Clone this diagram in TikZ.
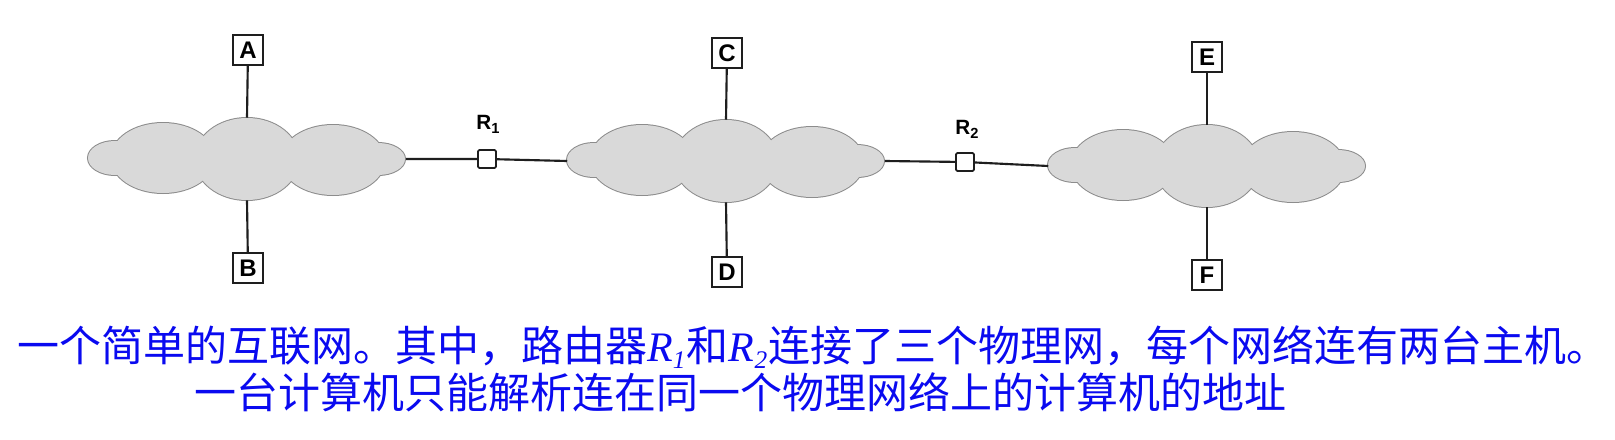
\documentclass[tikz,border=0pt]{standalone}
\usepackage{fontspec}
\newfontfamily\hv{Liberation Sans}
\newfontfamily\tnr{Liberation Serif}
\newfontfamily\cjk{Noto Sans CJK SC}
\definecolor{cloudfill}{HTML}{D9D9D9}
\definecolor{cloudedge}{HTML}{8C8C8C}
\definecolor{wire}{HTML}{1E1E1E}
\definecolor{captionblue}{RGB}{10,10,240}
\newcommand\drawnet[3]{%
  \begin{scope}[shift={(#1,#2)}]
    \foreach \dx/\dy/\rx/\ry in {-132/-1/27/17,-84/-1/52/35,86/1/52/35,131/0/27/16,0/0/52/41}
      \draw[cloudedge,line width=1.5pt] (\dx,\dy) ellipse[x radius=\rx, y radius=\ry];
    \foreach \dx/\dy/\rx/\ry in {-132/-1/27/17,-84/-1/52/35,86/1/52/35,131/0/27/16,0/0/52/41}
      \fill[cloudfill] (\dx,\dy) ellipse[x radius=\rx, y radius=\ry];
    \node[netbox] (#3) at (0,0) {};
  \end{scope}}
\newcommand\rsub[1]{R\raisebox{-0.35ex}{\fontsize{11}{12}\selectfont #1}}
\newcommand\itsub[1]{{\tnr\itshape R}\raisebox{-0.3ex}{\tnr\fontsize{19}{20}\selectfont\itshape #1}\kern1pt}
\begin{document}
\begin{tikzpicture}[x=0.75pt,y=-0.75pt,
  netbox/.style={draw=none,inner sep=0pt,minimum width=237.75pt,minimum height=61.5pt},
  hostbox/.style={draw=wire,line width=1.7pt,fill=white,inner sep=0pt,minimum size=22pt,
    font=\hv\bfseries\fontsize{18}{20}\selectfont},
  routerbox/.style={draw=wire,line width=1.3pt,fill=white,inner sep=0pt,minimum size=13.5pt,rounded corners=1pt},
  rlabel/.style={font=\hv\bfseries\fontsize{15.5}{17}\selectfont,inner sep=0pt},
  wireline/.style={draw=wire,line width=1.6pt},
  caption/.style={text=captionblue,inner sep=0pt,anchor=west,font=\cjk\fontsize{31.5}{34}\selectfont}]
\useasboundingbox (0,0) rectangle (1615,439);
\fill[white] (0,0) rectangle (1615,439);
\drawnet{247}{159}{net1}
\drawnet{726}{161}{net2}
\drawnet{1207}{166}{net3}
\node[hostbox] (A) at (248,50) {A};
\node[hostbox] (B) at (248,268) {B};
\node[hostbox] (C) at (727,53) {C};
\node[hostbox] (D) at (727,272) {D};
\node[hostbox] (E) at (1207,57) {E};
\node[hostbox] (F) at (1207,275) {F};
\node[routerbox] (R1) at (487,159) {};
\node[routerbox] (R2) at (965,162) {};
\node[rlabel] (lR1) at (488,124) {\rsub{1}};
\node[rlabel] (lR2) at (967,129) {\rsub{2}};
\draw[wireline] (A) -- (net1.north);
\draw[wireline] (B) -- (net1.south);
\draw[wireline] (C) -- (net2.north);
\draw[wireline] (D) -- (net2.south);
\draw[wireline] (E) -- (net3.north);
\draw[wireline] (F) -- (net3.south);
\draw[wireline] (net1.east) -- (R1) -- (net2.west);
\draw[wireline] (net2.east) -- (R2) -- (net3.west);
\node[caption] (t1) at (17,347) {一个简单的互联网。其中，路由器\itsub{1}和\itsub{2}连接了三个物理网，每个网络连有两台主机。};
\node[caption] (t2) at (194,392) {一台计算机只能解析连在同一个物理网络上的计算机的地址};
\end{tikzpicture}
\end{document}
